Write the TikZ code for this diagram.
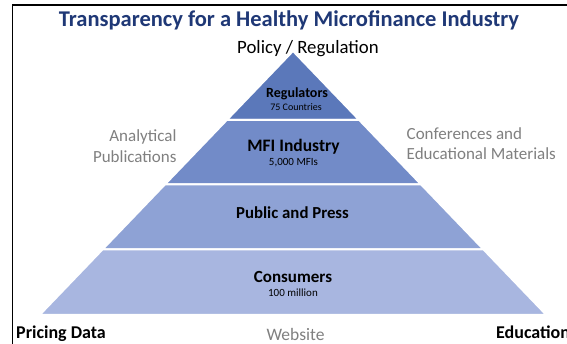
\documentclass[tikz,border=0pt]{standalone}
\usepackage{fontspec}
\setmainfont{Carlito}
\definecolor{titleblue}{RGB}{31,56,118}
\definecolor{regc}{RGB}{91,120,186}
\definecolor{mfic}{RGB}{114,139,200}
\definecolor{pubc}{RGB}{142,162,213}
\definecolor{conc}{RGB}{168,182,224}
\definecolor{graytext}{RGB}{128,128,128}
\tikzset{
  band/.style={draw=white, line width=2pt, line join=miter},
  lbl/.style={font=\bfseries\fontsize{17}{20}\selectfont, inner sep=0pt, anchor=base},
  sub/.style={font=\fontsize{11}{13}\selectfont, inner sep=0pt, anchor=base},
  side/.style={font=\fontsize{17}{20.5}\selectfont, text=graytext, inner sep=0pt},
  corner/.style={font=\bfseries\fontsize{18}{20}\selectfont, inner sep=0pt, anchor=base west}
}
\begin{document}
\begin{tikzpicture}[x=1pt,y=-1pt]
\useasboundingbox (0,0) rectangle (567,344);
\fill[white] (0,0) rectangle (567,344);
\draw[line width=1.8pt] (12.5,344) -- (12.5,5) -- (567,5);
% bands
\draw[band, fill=regc] (293,51) -- (359.24,120) -- (226.76,120) -- cycle;
\draw[band, fill=mfic] (226.76,120) -- (359.24,120) -- (421.16,184.5) -- (164.84,184.5) -- cycle;
\draw[band, fill=pubc] (164.84,184.5) -- (421.16,184.5) -- (483.56,249.5) -- (102.44,249.5) -- cycle;
\draw[band, fill=conc] (102.44,249.5) -- (483.56,249.5) -- (546.44,315) -- (39.56,315) -- cycle;
% texts
\node[font=\bfseries\fontsize{22.5}{26}\selectfont, text=titleblue, inner sep=0pt, anchor=base] (title) at (289,26.5) {Transparency for a Healthy Microfinance Industry};
\node[font=\fontsize{18.8}{22}\selectfont, inner sep=0pt, anchor=base west] (policy) at (237,54) {Policy / Regulation};
\node[font=\bfseries\fontsize{14}{16}\selectfont, inner sep=0pt, anchor=base] (reg) at (297,98) {Regulators};
\node[font=\fontsize{10}{12}\selectfont, inner sep=0pt, anchor=base] (regsub) at (296,110.5) {75 Countries};
\node[lbl, font=\bfseries\fontsize{17.5}{20}\selectfont] (mfi) at (293.5,151.5) {MFI Industry};
\node[sub] (mfisub) at (293.5,165.5) {5,000 MFIs};
\node[lbl, font=\bfseries\fontsize{16.8}{20}\selectfont] (pub) at (292.5,218.3) {Public and Press};
\node[lbl] (con) at (293,282.3) {Consumers};
\node[sub] (consub) at (293,296.7) {100 million};
\node[side, align=right, anchor=base east] (anal) at (176.7,162.5) {Analytical\\Publications};
\node[side, align=left, anchor=base west] (conf) at (406.5,160) {Conferences and\\Educational Materials};
\node[corner] (pricing) at (16,338.5) {Pricing Data};
\node[font=\fontsize{17.5}{20}\selectfont, text=graytext, inner sep=0pt, anchor=base] (web) at (295.5,340) {Website};
\node[corner] (edu) at (496,338.5) {Education};
\end{tikzpicture}
\end{document}
